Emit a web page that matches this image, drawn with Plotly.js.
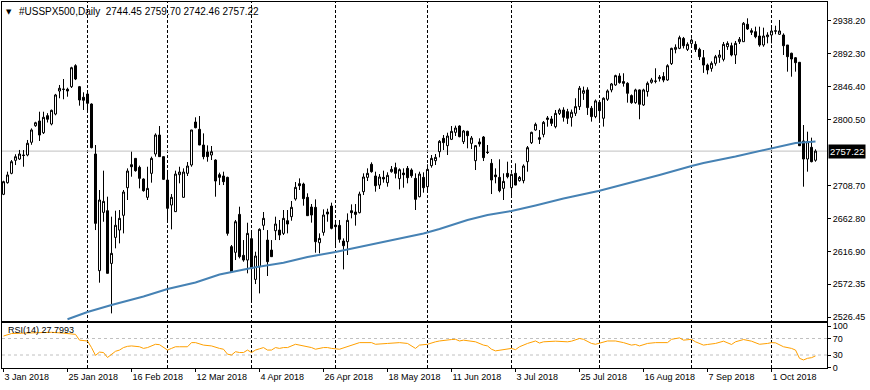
<!DOCTYPE html>
<html>
<head>
<meta charset="utf-8">
<script src="https://cdn.plot.ly/plotly-3.0.1.min.js"></script>
<style>html,body{margin:0;padding:0;background:#fff;}#chart{width:870px;height:390px;}</style>
</head>
<body>
<div id="chart"></div>
<script>
// ---- data ----
var openP = [2697.1,2713.3,2726.3,2744.4,2746.2,2751.8,2751.8,2769.5,2792.5,2799.1,2782.8,2806.5,2794.9,2808.8,2840.8,2843.0,2843.2,2846.8,2876.0,2846.8,
2832.1,2836.6,2822.7,2753.2,2590.9,2672.0,2674.3,2601.0,2637.2,2647.4,2667.9,2706.3,2738.3,2747.1,2734.6,2718.4,2692.9,2726.3,2753.2,2779.6,
2749.5,2717.0,2682.2,2673.0,2724.4,2692.9,2726.3,2737.9,2797.7,2787.5,2765.7,2756.0,2751.8,2744.8,2724.4,2722.6,2720.7,2624.3,2616.4,2669.2,
2612.2,2605.7,2635.4,2578.8,2596.4,2654.0,2633.5,2619.6,2646.5,2647.4,2642.8,2660.4,2666.0,2690.6,2711.9,2711.4,2692.9,2679.4,2679.0,2629.8,
2644.2,2672.5,2680.8,2654.4,2653.9,2632.1,2631.2,2674.3,2672.5,2671.6,2700.8,2720.7,2738.8,2722.6,2710.0,2720.7,2713.3,2728.6,2734.2,2718.9,
2726.7,2733.2,2730.9,2719.3,2693.8,2720.7,2707.7,2737.0,2743.9,2756.4,2775.0,2764.8,2773.6,2783.3,2792.1,2770.3,2784.7,2768.0,2743.9,2769.9,
2776.8,2755.8,2740.2,2724.0,2720.7,2705.4,2726.3,2706.3,2726.3,2716.1,2716.1,2742.5,2768.9,2786.6,2775.9,2780.5,2803.3,2801.9,2791.2,2809.7,
2814.4,2812.1,2804.2,2809.8,2819.1,2837.6,2842.3,2816.8,2805.2,2825.1,2802.9,2829.3,2842.3,2849.2,2861.7,2853.9,2851.5,2834.4,2824.6,2842.3,
2821.4,2840.0,2852.9,2854.3,2858.0,2861.0,2856.1,2878.9,2898.7,2900.1,2914.0,2898.7,2907.0,2905.7,2898.7,2887.1,2876.9,2872.3,2879.3,2887.7,
2884.8,2902.4,2903.8,2890.9,2909.4,2909.4,2933.6,2924.7,2923.3,2917.3,2904.8,2916.3,2918.7,2924.5,2919.7,2918.7,2904.8,2893.3,2887.1,2880.7,
2771.3,2746.2,2762.5,2744.45];
var highP = [2716.0,2728.6,2744.8,2752.8,2758.8,2758.7,2772.7,2788.8,2798.0,2812.0,2812.0,2810.0,2815.0,2836.8,2849.2,2857.5,2845.4,2874.5,2878.0,2847.8,
2839.0,2841.2,2823.6,2765.7,2703.1,2730.0,2693.8,2666.0,2674.3,2675.3,2703.1,2733.2,2756.4,2747.5,2737.0,2719.3,2735.5,2749.5,2781.9,2792.1,
2749.6,2731.0,2697.5,2730.0,2735.5,2733.2,2742.0,2786.8,2804.2,2806.0,2781.9,2765.2,2764.3,2745.8,2727.2,2728.6,2721.6,2626.6,2661.4,2679.9,
2633.5,2657.6,2645.1,2617.3,2649.8,2672.5,2647.4,2633.5,2666.0,2661.4,2675.3,2675.3,2687.8,2714.2,2719.3,2713.3,2698.5,2683.6,2690.1,2642.8,
2676.2,2677.1,2685.5,2661.4,2661.4,2635.8,2670.6,2683.1,2683.6,2700.8,2726.3,2733.2,2741.6,2728.6,2725.3,2730.0,2727.7,2736.5,2741.1,2733.2,
2733.2,2736.5,2733.2,2726.3,2728.6,2727.7,2738.8,2751.8,2753.2,2772.6,2779.6,2782.8,2792.1,2792.6,2793.1,2786.6,2785.6,2778.2,2765.7,2775.0,
2778.2,2765.7,2746.2,2733.2,2745.8,2726.3,2742.5,2726.3,2740.2,2722.6,2738.8,2764.3,2784.2,2796.8,2786.6,2799.1,2806.0,2806.0,2814.4,2816.7,
2818.2,2816.0,2815.0,2830.7,2847.8,2846.9,2846.0,2820.0,2829.0,2828.0,2832.0,2843.0,2852.0,2863.5,2865.5,2865.5,2853.0,2836.0,2844.0,2843.0,
2844.0,2854.0,2859.0,2872.4,2863.0,2867.0,2878.0,2901.0,2905.7,2917.8,2916.0,2908.5,2914.0,2910.0,2901.0,2897.8,2879.0,2882.0,2891.0,2897.8,
2909.0,2910.0,2908.0,2910.4,2915.9,2936.8,2941.9,2928.0,2930.3,2930.3,2928.9,2922.5,2932.6,2931.6,2939.6,2921.0,2904.8,2894.1,2888.0,2881.2,
2793.5,2784.2,2775.9,2759.70];
var lowP = [2696.0,2712.0,2725.0,2737.8,2745.0,2735.5,2750.0,2766.0,2791.0,2771.3,2781.0,2797.0,2793.0,2807.0,2830.7,2829.3,2832.9,2845.0,2856.0,2820.4,
2814.4,2812.0,2761.0,2647.4,2574.2,2659.0,2587.0,2531.5,2622.0,2628.9,2642.8,2689.2,2721.6,2728.6,2705.4,2700.8,2689.2,2713.3,2749.5,2749.0,
2717.0,2661.4,2648.4,2672.5,2712.4,2692.5,2722.6,2735.5,2788.9,2765.5,2745.8,2742.5,2744.8,2693.8,2710.0,2710.0,2639.6,2589.0,2605.7,2608.0,
2603.4,2587.2,2550.0,2572.3,2559.3,2647.4,2583.5,2610.0,2633.5,2633.5,2640.5,2642.8,2660.4,2688.3,2703.1,2681.3,2667.0,2657.7,2615.9,2615.0,
2639.6,2659.0,2648.4,2624.3,2629.8,2592.7,2612.7,2663.7,2653.5,2670.6,2696.1,2715.6,2727.2,2700.8,2704.5,2713.3,2707.7,2727.2,2719.3,2704.0,
2706.3,2712.4,2720.2,2675.3,2692.9,2699.4,2699.4,2734.2,2737.9,2748.5,2758.7,2751.8,2772.6,2778.2,2776.4,2767.1,2761.1,2760.1,2730.9,2763.4,
2743.4,2753.2,2697.5,2712.4,2699.9,2689.2,2719.3,2693.8,2709.6,2714.7,2712.4,2728.6,2767.1,2785.6,2767.1,2776.4,2791.2,2792.1,2788.9,2807.4,
2798.2,2795.0,2791.3,2806.0,2814.4,2828.4,2807.5,2798.2,2803.0,2800.5,2791.3,2827.0,2839.0,2848.0,2851.0,2846.9,2824.6,2823.0,2823.0,2801.5,
2820.0,2833.0,2851.0,2851.5,2854.0,2853.0,2855.0,2877.0,2893.2,2899.0,2900.0,2896.4,2904.8,2895.0,2883.9,2866.0,2864.0,2867.7,2876.0,2880.0,
2882.0,2898.0,2889.0,2878.4,2906.2,2909.0,2925.7,2918.7,2914.1,2902.4,2902.4,2907.1,2907.1,2919.7,2918.7,2890.9,2867.7,2860.7,2867.7,2764.3,
2707.7,2728.6,2741.6,2742.46];
var closeP = [2714.7,2724.0,2742.5,2749.4,2753.2,2751.2,2768.1,2786.6,2796.7,2779.6,2804.2,2801.5,2813.9,2835.3,2844.6,2843.3,2840.8,2873.2,2857.5,2828.3,
2827.9,2823.7,2762.0,2656.7,2689.2,2687.3,2587.2,2615.0,2654.0,2663.7,2700.3,2729.5,2735.5,2730.0,2719.3,2702.2,2705.4,2747.1,2779.6,2749.5,
2717.9,2677.6,2692.9,2725.3,2728.1,2728.1,2736.5,2786.6,2789.8,2765.7,2749.5,2749.5,2756.4,2715.6,2720.7,2714.7,2642.8,2589.5,2659.0,2610.4,
2605.7,2642.8,2594.1,2611.3,2648.4,2663.7,2603.4,2610.4,2655.8,2640.5,2663.7,2655.8,2679.0,2706.8,2709.1,2691.1,2667.4,2668.3,2631.2,2635.8,
2668.3,2669.7,2649.8,2652.1,2634.5,2625.6,2660.9,2671.6,2669.2,2697.5,2721.2,2726.3,2728.6,2709.1,2721.2,2718.4,2723.5,2731.8,2726.3,2731.4,
2724.4,2720.2,2723.0,2690.1,2725.3,2706.3,2731.8,2747.1,2748.5,2770.8,2769.0,2778.2,2784.7,2789.3,2777.3,2785.2,2778.7,2775.4,2764.8,2767.1,
2748.1,2755.3,2717.0,2721.6,2702.2,2715.1,2721.6,2724.9,2710.0,2720.7,2736.5,2762.0,2783.3,2794.4,2773.6,2797.2,2801.4,2795.8,2809.7,2814.4,
2804.2,2802.9,2811.2,2819.1,2844.6,2841.3,2817.7,2805.2,2827.0,2813.5,2830.7,2840.9,2850.6,2862.2,2852.5,2851.5,2837.6,2824.6,2842.3,2822.3,
2842.3,2851.5,2856.2,2854.5,2860.0,2856.0,2876.0,2900.1,2901.5,2915.0,2903.8,2905.7,2911.7,2898.7,2888.5,2876.9,2870.0,2879.3,2888.5,2890.9,
2905.7,2907.0,2890.9,2907.1,2912.7,2935.0,2927.1,2922.5,2916.3,2904.8,2917.3,2918.7,2924.3,2924.1,2924.3,2903.8,2888.5,2885.3,2880.2,2764.7,
2746.2,2770.3,2742.5,2757.22];

// moving average, read at selected bars
var maIdx = [16,21,27,35,41,48,54,62,70,76,83,89,97,105,109,116,121,127,133,140,149,158,164,172,175,183,192,198,203];
var maVal = [2523.3,2533.4,2543.1,2555.0,2565.4,2574.4,2585.6,2594.6,2602.0,2610.0,2616.9,2623.8,2633.6,2642.6,2648.9,2661.4,2668.3,2673.9,2681.6,2691.3,2702.1,2714.9,2724.0,2736.5,2740.7,2749.7,2760.8,2768.5,2770.6];

// RSI(14), read at selected bars
var rsiIdx = [0,2,5,8,12,15,18,19,21,22,23,24,25,26,27,28,29,30,31,32,34,35,36,37,38,39,40,41,42,43,44,46,47,48,50,52,54,55,56,57,58,59,60,61,62,63,64,65,66,67,68,69,70,71,73,75,77,78,80,81,82,84,86,89,92,93,96,99,101,103,104,106,108,109,112,113,114,115,118,119,120,121,122,123,125,126,127,128,129,131,133,134,135,138,141,142,144,145,147,148,149,151,153,155,157,158,159,161,163,166,167,169,170,172,173,175,176,178,180,182,183,185,187,189,191,192,193,195,197,198,199,200,201,202,203];
var rsiVal = [76,82,83,84,85,83,80,66,64,48,29,37,36,24,32,39,42,48,51,52,50,46,48,52,56,55,49,42,46,50,50,50,60,60,54,52,46,44,32,30,38,36,36,42,36,42,45,48,42,42,48,46,48,48,56,52,48,44,48,48,46,44,50,60,60,56,58,60,58,46,54,56,62,64,67.5,68,64,66,62,58,54,52,44,40,43,44,46,43,50,58,64,59,62,63.5,62,63.5,70,68,58,56,59,64,64,60,54,55.5,52,58,60,60,68,71.5,66,68,62,54,55.5,58,63.5,55.5,62,67.5,63.5,56,58,60,59.5,50,46,42,22,18,22,23.5,27.8];

var tickIdx = [0,16,32,48,64,80,96,112,128,144,160,176,192];
var tickText = ['3 Jan 2018','25 Jan 2018','16 Feb 2018','12 Mar 2018','4 Apr 2018','26 Apr 2018','18 May 2018','11 Jun 2018','3 Jul 2018','25 Jul 2018','16 Aug 2018','7 Sep 2018','1 Oct 2018'];
var monthStarts = [21,41,62,83,106,127,149,172,192];
var priceTicks = [2526.45,2572.35,2616.90,2662.80,2708.70,2800.50,2846.40,2892.30,2938.20];
var lastPrice = 2757.22;
var header = '#USSPX500,Daily  2744.45 2759.70 2742.46 2757.22';
var rsiLabel = 'RSI(14) 27.7993';

// ---- chart ----
var barIdx = openP.map(function(_, i){ return i; });
var FONT = 'Liberation Sans, Arial, sans-serif';
var XR = [-0.375, 205.875];

var traces = [
  {type:'candlestick', x:barIdx, open:openP, high:highP, low:lowP, close:closeP,
   xaxis:'x', yaxis:'y', whiskerwidth:0, hoverinfo:'skip',
   increasing:{line:{color:'#000000', width:1}, fillcolor:'#ffffff'},
   decreasing:{line:{color:'#000000', width:1}, fillcolor:'#000000'}},
  {type:'scatter', mode:'lines', x:maIdx, y:maVal, xaxis:'x', yaxis:'y',
   line:{color:'#4682b4', width:2}, hoverinfo:'skip'},
  {type:'scatter', mode:'lines', x:rsiIdx, y:rsiVal, xaxis:'x2', yaxis:'y2',
   line:{color:'#ffa000', width:1}, hoverinfo:'skip'}
];

var shapes = [];
monthStarts.forEach(function(m){
  shapes.push({type:'line', xref:'x', yref:'paper', x0:m, x1:m, y0:0, y1:1, layer:'below',
    line:{color:'#000000', width:1, dash:'3px,2px'}});
});
shapes.push({type:'line', xref:'paper', yref:'y', x0:0, x1:1, y0:lastPrice, y1:lastPrice, layer:'below',
  line:{color:'#c0c0c0', width:1}});
[30,70].forEach(function(v){
  shapes.push({type:'line', xref:'paper', yref:'y2', x0:0, x1:1, y0:v, y1:v, layer:'below',
    line:{color:'#c0c0c0', width:1, dash:'3px,3px'}});
});

var annotations = [
  {xref:'paper', yref:'paper', x:0, y:1, xanchor:'left', yanchor:'top', xshift:15, yshift:-2,
   text:header, showarrow:false, font:{family:FONT, size:10, color:'#000000'}},
  {xref:'paper', yref:'paper', x:0, y:1, xanchor:'left', yanchor:'top', xshift:2, yshift:-4,
   text:'\u25BC', showarrow:false, font:{family:'DejaVu Sans', size:7, color:'#000000'}},
  {xref:'paper', yref:'y2 domain', x:0, y:1, xanchor:'left', yanchor:'top', xshift:4, yshift:0,
   text:rsiLabel, showarrow:false, font:{family:FONT, size:9, color:'#000000'}},
  {xref:'paper', yref:'y', x:1, y:lastPrice, xanchor:'left', yanchor:'middle', xshift:1,
   text:lastPrice.toFixed(2), showarrow:false, bgcolor:'#000000', borderpad:1,
   font:{family:FONT, size:9.5, color:'#ffffff'}}
];

var axisFont = {family:FONT, size:9, color:'#000000'};
var layout = {
  width:870, height:390,
  margin:{l:2, r:43, t:2, b:22, pad:0},
  paper_bgcolor:'#ffffff', plot_bgcolor:'#ffffff',
  showlegend:false,
  boxgap:0.5, boxgroupgap:0,
  xaxis:{anchor:'y', range:XR, showgrid:false, zeroline:false, showticklabels:false, ticks:'',
         showline:true, linecolor:'#000000', linewidth:1, mirror:true, rangeslider:{visible:false}, fixedrange:true},
  xaxis2:{anchor:'y2', matches:'x', range:XR, showgrid:false, zeroline:false,
         tickmode:'array', tickvals:tickIdx, ticktext:tickText, ticks:'outside', ticklen:3, tickcolor:'#000000',
         ticklabelposition:'outside right', tickfont:axisFont,
         showline:true, linecolor:'#000000', linewidth:1, mirror:true, rangeslider:{visible:false}},
  yaxis:{anchor:'x', domain:[0.1284, 1], range:[2520.9, 2964.6], side:'right', showgrid:false, zeroline:false,
         tickmode:'array', tickvals:priceTicks, ticktext:priceTicks.map(function(v){return v.toFixed(2);}),
         ticks:'outside', ticklen:3, tickcolor:'#000000', tickfont:axisFont,
         showline:true, linecolor:'#000000', linewidth:1, mirror:true},
  yaxis2:{anchor:'x2', domain:[0, 0.123], range:[-1.5, 107.6], side:'right', showgrid:false, zeroline:false,
         tickmode:'array', tickvals:[0,30,70,100], ticks:'outside', ticklen:3, tickcolor:'#000000', tickfont:axisFont,
         showline:true, linecolor:'#000000', linewidth:1, mirror:true},
  shapes:shapes,
  annotations:annotations
};

Plotly.newPlot('chart', traces, layout, {displayModeBar:false, staticPlot:true});
</script>
</body>
</html>
